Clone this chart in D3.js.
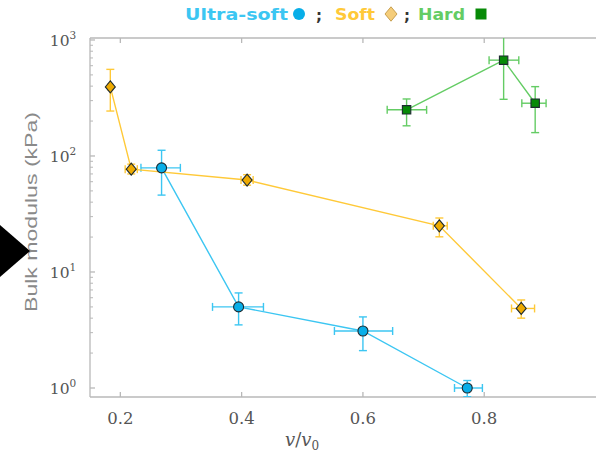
<!DOCTYPE html>
<html>
<head>
<meta charset="utf-8">
<script src="https://cdn.jsdelivr.net/npm/d3@7"></script>
<style>
  body { margin: 0; background: #fff; }
  svg { display: block; }
</style>
</head>
<body>
<svg id="chart" width="596" height="460"></svg>
<script>
// values: x = v/v0, y = bulk modulus in kPa
// errors given as [low, high] for both axes
var ultraX    = [0.268, 0.395, 0.600, 0.772];
var ultraY    = [79, 5.0, 3.1, 1.0];
var ultraXErr = [[0.234, 0.299], [0.352, 0.436], [0.553, 0.649], [0.751, 0.797]];
var ultraYErr = [[46, 112], [3.5, 6.6], [2.1, 4.1], [0.84, 1.16]];

var softX    = [0.1835, 0.218, 0.409, 0.726, 0.861];
var softY    = [394, 77, 62, 25, 4.85];
var softXErr = [[0.180, 0.187], [0.208, 0.228], [0.399, 0.419], [0.716, 0.739], [0.845, 0.883]];
var softYErr = [[244, 558], [70, 85], [56, 69], [20.1, 29.2], [4.0, 5.74]];

var hardX    = [0.672, 0.832, 0.884];
var hardY    = [250, 670, 285];
var hardXErr = [[0.640, 0.705], [0.808, 0.857], [0.862, 0.902]];
var hardYErr = [[182, 310], [308, 1100], [159, 396]];

var xTicks = [0.2, 0.4, 0.6, 0.8];
var yTicks = [1, 10, 100, 1000];

var series = [
  { name: "Ultra-soft", x: ultraX, y: ultraY, xe: ultraXErr, ye: ultraYErr,
    line: "#3cc6f2", fill: "#08aee8", shape: "circle" },
  { name: "Soft", x: softX, y: softY, xe: softXErr, ye: softYErr,
    line: "#ffc938", fill: "#eeaa00", shape: "diamond" },
  { name: "Hard", x: hardX, y: hardY, xe: hardXErr, ye: hardYErr,
    line: "#64cc64", fill: "#078a07", shape: "square" }
];

(function() {
var svg = d3.select("#chart");
var pLeft = 90, pRight = 596, pTop = 38, pBottom = 397;

var x = d3.scaleLinear().domain([0.15, 1.0]).range([pLeft, pLeft + 0.85 * 606.5]);
var y = d3.scaleLog().domain([Math.pow(10, -0.0776), Math.pow(10, 3.017)]).range([pBottom, pTop]);

svg.append("defs").append("clipPath").attr("id", "plotclip")
  .append("rect").attr("x", pLeft).attr("y", pTop).attr("width", pRight - pLeft).attr("height", pBottom - pTop);

// frame
var frame = svg.append("g").attr("stroke", "#b8b8b8").attr("stroke-width", 1.3).attr("fill", "none");
frame.append("line").attr("x1", pLeft).attr("x2", pRight).attr("y1", pTop).attr("y2", pTop);
frame.append("line").attr("x1", pLeft).attr("x2", pRight).attr("y1", pBottom).attr("y2", pBottom);
frame.append("line").attr("x1", pLeft).attr("x2", pLeft).attr("y1", pTop).attr("y2", pBottom);

// x ticks (inward, bottom and top)
xTicks.forEach(function(t) {
  frame.append("line").attr("x1", x(t)).attr("x2", x(t)).attr("y1", pBottom).attr("y2", pBottom - 5);
  frame.append("line").attr("x1", x(t)).attr("x2", x(t)).attr("y1", pTop).attr("y2", pTop + 5);
});

// y ticks major + minor
var minor = [];
for (var k = 0; k < 3; k++) for (var m = 2; m <= 9; m++) minor.push(m * Math.pow(10, k));
yTicks.forEach(function(t) {
  frame.append("line").attr("x1", pLeft).attr("x2", pLeft + 5).attr("y1", y(t)).attr("y2", y(t));
});
minor.forEach(function(t) {
  frame.append("line").attr("x1", pLeft).attr("x2", pLeft + 3).attr("y1", y(t)).attr("y2", y(t))
    .attr("stroke-width", 1);
});

// tick labels
svg.selectAll(".xt").data(xTicks).enter().append("text")
  .attr("x", function(d) { return x(d); }).attr("y", 424)
  .attr("text-anchor", "middle")
  .attr("font-family", "DejaVu Serif, serif").attr("font-size", 16.5)
  .attr("fill", "#555").text(function(d) { return d.toFixed(1); });

var yl = svg.selectAll(".yt").data(yTicks).enter().append("text")
  .attr("x", 63).attr("y", function(d) { return y(d) + 6; })
  .attr("text-anchor", "middle")
  .attr("font-family", "DejaVu Serif, serif").attr("font-size", 15.5)
  .attr("fill", "#555");
yl.append("tspan").text("10");
yl.append("tspan").attr("dy", -7).attr("font-size", 10.5).text(function(d) { return Math.round(Math.log10(d)); });

// axis titles
svg.append("text").attr("transform", "translate(37,212) rotate(-90)")
  .attr("text-anchor", "middle")
  .attr("font-family", "Liberation Sans, Arial, sans-serif").attr("font-size", 17)
  .attr("textLength", 200).attr("lengthAdjust", "spacingAndGlyphs")
  .attr("fill", "#8a8a8a").text("Bulk modulus (kPa)");

var xl = svg.append("text").attr("x", 302).attr("y", 446).attr("text-anchor", "middle")
  .attr("font-family", "DejaVu Serif, serif").attr("font-size", 18)
  .attr("font-style", "italic").attr("fill", "#555");
xl.append("tspan").text("v");
xl.append("tspan").attr("font-style", "normal").text("/");
xl.append("tspan").text("v");
xl.append("tspan").attr("font-style", "normal").attr("font-size", 12).attr("dy", 4).text("0");

// data
var plot = svg.append("g").attr("clip-path", "url(#plotclip)");
var cap = 4;

series.forEach(function(s) {
  var pts = s.x.map(function(v, i) { return { x: v, y: s.y[i], xe: s.xe[i], ye: s.ye[i] }; });
  var g = plot.append("g").attr("stroke", s.line).attr("fill", "none").attr("stroke-width", 1.4);
  g.append("path").datum(pts)
    .attr("d", d3.line().x(function(d) { return x(d.x); }).y(function(d) { return y(d.y); }));
  pts.forEach(function(d) {
    var cx = x(d.x), cy = y(d.y);
    var y0 = y(d.ye[0]), y1 = y(d.ye[1]), x0 = x(d.xe[0]), x1 = x(d.xe[1]);
    g.append("line").attr("x1", cx).attr("x2", cx).attr("y1", y0).attr("y2", y1);
    g.append("line").attr("x1", cx - cap).attr("x2", cx + cap).attr("y1", y0).attr("y2", y0);
    g.append("line").attr("x1", cx - cap).attr("x2", cx + cap).attr("y1", y1).attr("y2", y1);
    g.append("line").attr("x1", x0).attr("x2", x1).attr("y1", cy).attr("y2", cy);
    g.append("line").attr("x1", x0).attr("x2", x0).attr("y1", cy - cap).attr("y2", cy + cap);
    g.append("line").attr("x1", x1).attr("x2", x1).attr("y1", cy - cap).attr("y2", cy + cap);
  });
  s.pts = pts;
});

// marker shapes: circle, squat diamond, square
function marker(shape, r) {
  if (shape === "circle") return d3.symbol().type(d3.symbolCircle).size(Math.PI * r * r)();
  if (shape === "square") return "M" + (-r) + "," + (-r) + "H" + r + "V" + r + "H" + (-r) + "Z";
  return "M0," + (-r * 1.2) + "L" + r + ",0L0," + (r * 1.2) + "L" + (-r) + ",0Z";
}
var radius = { circle: 5, diamond: 5, square: 4.2 };

series.forEach(function(s) {
  plot.append("g").selectAll("path").data(s.pts).enter().append("path")
    .attr("transform", function(d) { return "translate(" + x(d.x) + "," + y(d.y) + ")"; })
    .attr("d", marker(s.shape, radius[s.shape]))
    .attr("fill", s.fill).attr("stroke", "#1d2a30").attr("stroke-width", 1.1);
});

// legend
var lg = svg.append("g").attr("font-family", "DejaVu Sans, sans-serif").attr("font-weight", "bold")
  .attr("font-size", 15);
var legendPos = [
  { tx: 185, tw: 103, mx: 299, sx: 316 },
  { tx: 335, tw: 40, mx: 391, sx: 404 },
  { tx: 418, tw: 47, mx: 481, sx: null }
];
series.forEach(function(s, i) {
  var p = legendPos[i];
  lg.append("text").attr("x", p.tx).attr("y", 20).attr("fill", s.line)
    .attr("textLength", p.tw).attr("lengthAdjust", "spacingAndGlyphs").text(s.name);
  lg.append("path").attr("transform", "translate(" + p.mx + ",14)")
    .attr("d", marker(s.shape, s.shape === "square" ? 5.5 : 6))
    .attr("fill", s.shape === "diamond" ? "#f5cd7a" : s.fill)
    .attr("stroke", s.shape === "diamond" ? "#c8a050" : "none").attr("stroke-width", 1);
  if (p.sx) lg.append("text").attr("x", p.sx).attr("y", 21).attr("fill", "#333").text(";");
});

// black arrow marker at left edge
svg.append("path").attr("d", "M0,225 L30,251 L0,277 Z").attr("fill", "#000");
})();
</script>
</body>
</html>
